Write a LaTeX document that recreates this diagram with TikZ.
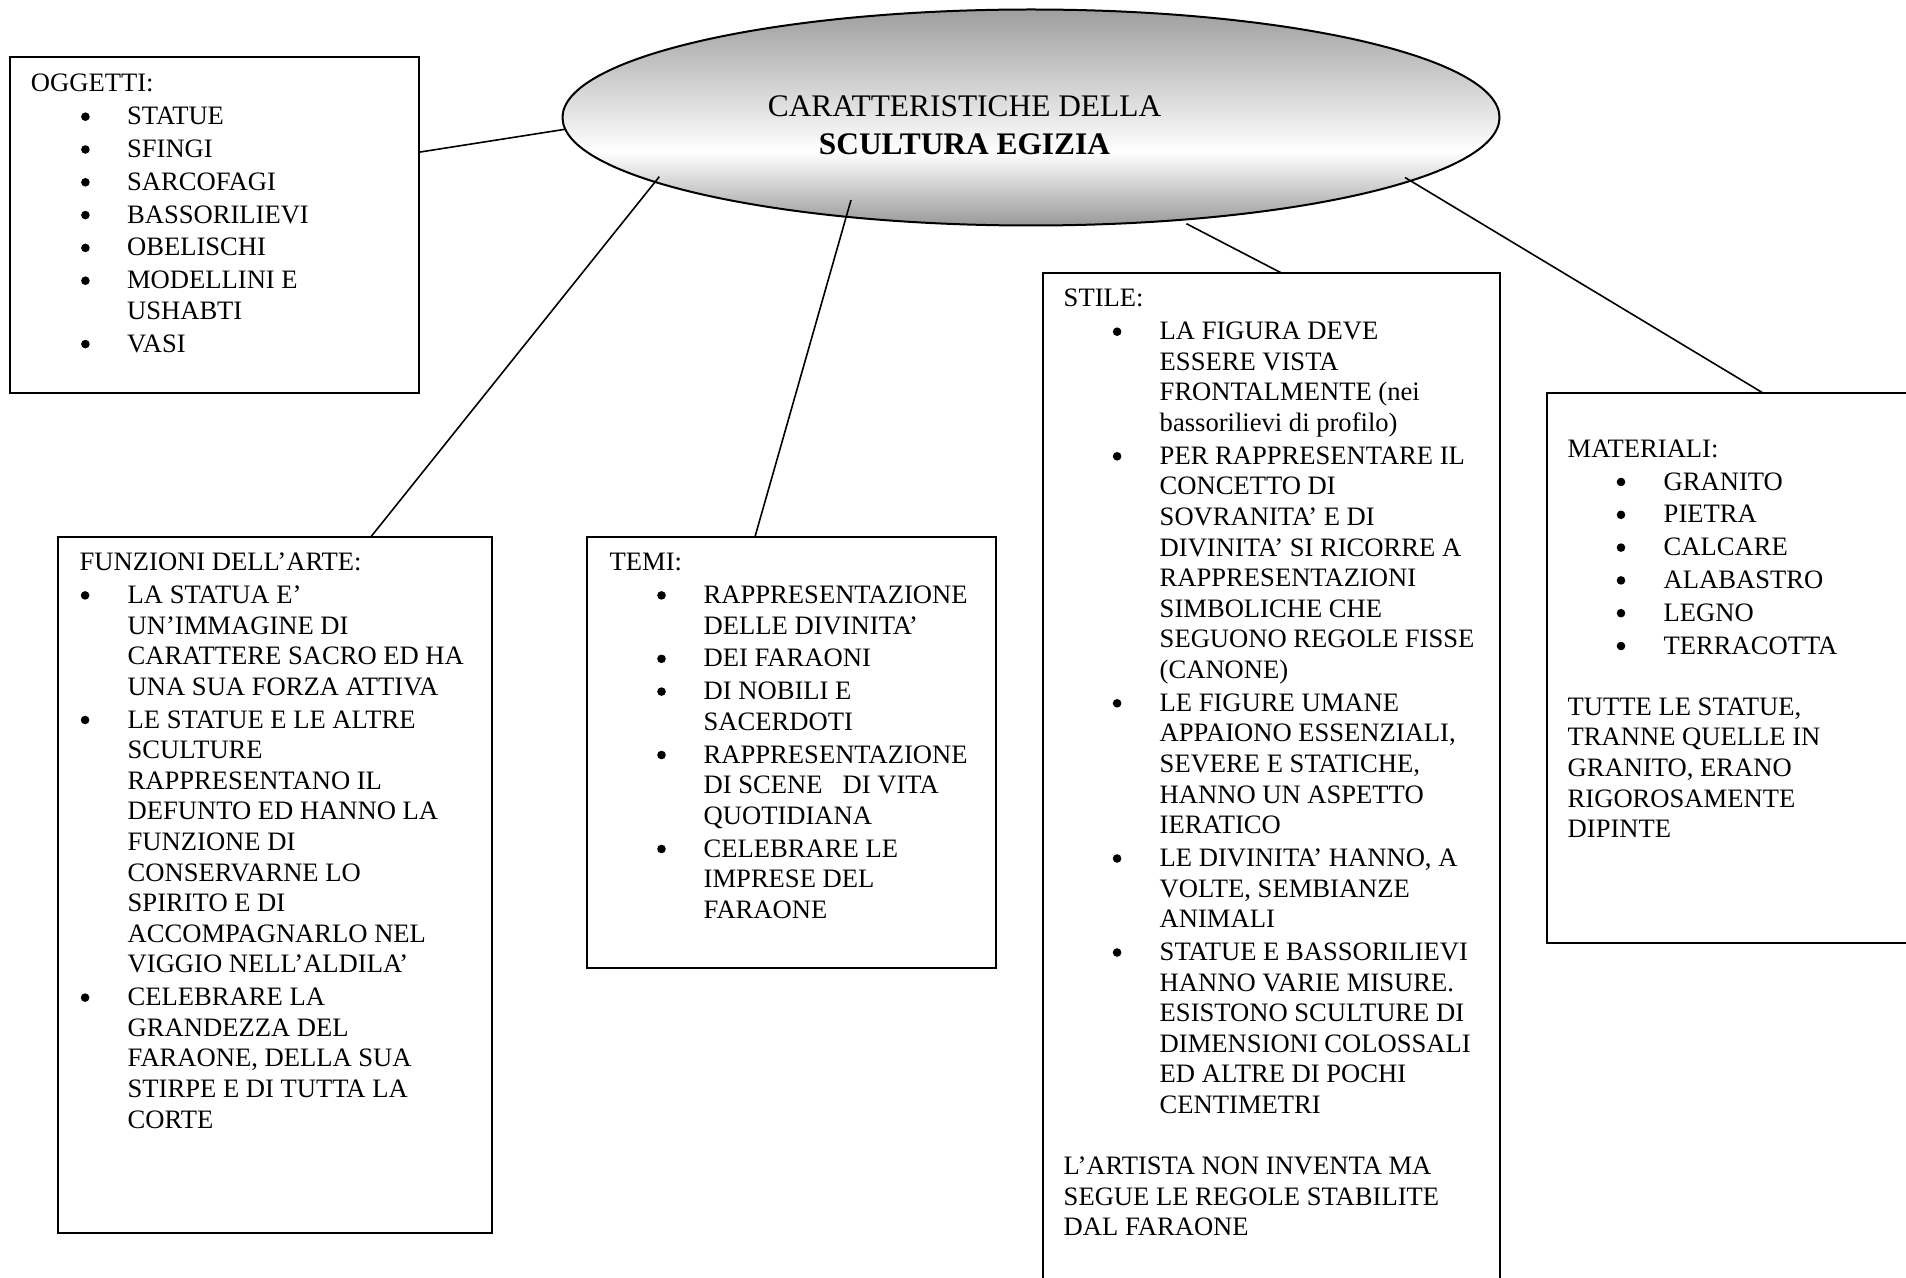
\documentclass[tikz,border=0pt]{standalone}
\usepackage{fontspec}
\setmainfont{Liberation Serif}
\usetikzlibrary{shapes.geometric,fit,calc}

% bullet lists laid out as two-column tabulars
\newlength\bulw
\newlength\bulo
\newlength\lgap
\setlength\lgap{1.1pt}
\newcommand\bdot{\begin{pgfpicture}\pgfpathcircle{\pgfpointorigin}{2.15pt}\pgfusepath{fill}\end{pgfpicture}}
\newcommand\bu{\makebox[\bulw][l]{\hspace*{\bulo}\hspace*{0.2pt}\raisebox{1.9pt}{\bdot}}}
\newcommand\hd[1]{\multicolumn{2}{@{}l@{}}{#1}}

% grey-white-grey fill of the central oval
\pgfdeclareverticalshading{ovalshade}{100bp}{%
  color(0bp)=(gray!80); color(25bp)=(gray!80); color(42bp)=(white);
  color(75bp)=(gray!76); color(100bp)=(gray!76)}

\begin{document}
\begin{tikzpicture}[x=0.5pt,y=-0.5pt,
  box/.style={draw, rectangle, line width=1.1pt, inner sep=0pt, outer sep=0pt},
  link/.style={line width=0.8pt},
  txt/.style={anchor=base west, inner sep=0pt, font=\fontsize{13.3}{15.3}\selectfont},
]

\fill[white] (0,0) rectangle (1906,1278);
\useasboundingbox (0,0) rectangle (1906,1278);

% central oval
\node[ellipse, draw, line width=1pt, shading=ovalshade, minimum width=468.5pt,
      minimum height=108pt, inner sep=0pt] (title) at (1031,117.5) {};
\node[anchor=base, inner sep=0pt, font=\fontsize{15.7}{19}\selectfont] (titletext) at (964.5,117)
  {\begin{tabular}[t]{@{}c@{}}CARATTERISTICHE DELLA\\\textbf{SCULTURA EGIZIA}\end{tabular}};

% boxes
\node[box, fit={(10,56.7) (419,393)}] (oggetti) {};
\node[box, fit={(58.3,536.7) (491.7,1233.3)}] (funzioni) {};
\node[box, fit={(586.7,536.7) (996,968.3)}] (temi) {};
\node[box, fit={(1043,273.3) (1500,1300)}] (stile) {};
\node[box, fit={(1546.7,393) (1930,943)}] (materiali) {};

% connectors
\coordinate (e-ogg) at ($(title.center)+(-466,11.8)$);
\coordinate (e-funz) at ($(title.center)+(-371.7,59.2)$);
\coordinate (e-temi) at ($(title.center)+(-180,82.5)$);
\coordinate (e-stile) at ($(title.center)+(155.4,106.2)$);
\coordinate (e-mat) at ($(title.center)+(374,60)$);
\draw[link] ($(oggetti.north east)!0.284!(oggetti.south east)$) -- (e-ogg);
\draw[link] ($(funzioni.north west)+(312.7,0)$) -- (e-funz);
\draw[link] ($(temi.north west)+(168.3,0)$) -- (e-temi);
\draw[link] ($(stile.north west)+(239,0)$) -- (e-stile);
\draw[link] ($(materiali.north west)+(216.3,0)$) -- (e-mat);

% OGGETTI
\node[txt] (oggetti-text) at (30.5,92) {\setlength\bulw{48.1pt}\setlength\bulo{24.9pt}%
\begin{tabular}[t]{@{}l@{}l@{}}
\hd{OGGETTI:}\\[\lgap]
\bu & STATUE\\[\lgap]
\bu & SFINGI\\[\lgap]
\bu & SARCOFAGI\\[\lgap]
\bu & BASSORILIEVI\\[\lgap]
\bu & OBELISCHI\\[\lgap]
\bu & MODELLINI E\\
    & USHABTI\\[\lgap]
\bu & VASI
\end{tabular}};

% FUNZIONI DELL'ARTE
\node[txt] (funzioni-text) at (79.3,570.7) {\setlength\bulw{24pt}\setlength\bulo{0.35pt}%
\begin{tabular}[t]{@{}l@{}l@{}}
\hd{FUNZIONI DELL’ARTE:}\\[\lgap]
\bu & LA STATUA E’\\
    & UN’IMMAGINE DI\\
    & CARATTERE SACRO ED HA\\
    & UNA SUA FORZA ATTIVA\\[\lgap]
\bu & LE STATUE E LE ALTRE\\
    & SCULTURE\\
    & RAPPRESENTANO IL\\
    & DEFUNTO ED HANNO LA\\
    & FUNZIONE DI\\
    & CONSERVARNE LO\\
    & SPIRITO E DI\\
    & ACCOMPAGNARLO NEL\\
    & VIGGIO NELL’ALDILA’\\[\lgap]
\bu & CELEBRARE LA\\
    & GRANDEZZA DEL\\
    & FARAONE, DELLA SUA\\
    & STIRPE E DI TUTTA LA\\
    & CORTE
\end{tabular}};

% TEMI
\node[txt] (temi-text) at (609.3,570.7) {\setlength\bulw{47pt}\setlength\bulo{23.55pt}%
\begin{tabular}[t]{@{}l@{}l@{}}
\hd{TEMI:}\\[\lgap]
\bu & RAPPRESENTAZIONE\\
    & DELLE DIVINITA’\\[\lgap]
\bu & DEI FARAONI\\[\lgap]
\bu & DI NOBILI E\\
    & SACERDOTI\\[\lgap]
\bu & RAPPRESENTAZIONE\\
    & DI SCENE\ \ \ DI VITA\\
    & QUOTIDIANA\\[\lgap]
\bu & CELEBRARE LE\\
    & IMPRESE DEL\\
    & FARAONE
\end{tabular}};

% STILE
\node[txt] (stile-text) at (1063.3,307) {\setlength\bulw{48pt}\setlength\bulo{24.35pt}%
\begin{tabular}[t]{@{}l@{}l@{}}
\hd{STILE:}\\[\lgap]
\bu & LA FIGURA DEVE\\
    & ESSERE VISTA\\
    & FRONTALMENTE (nei\\
    & bassorilievi di profilo)\\[\lgap]
\bu & PER RAPPRESENTARE IL\\
    & CONCETTO DI\\
    & SOVRANITA’ E DI\\
    & DIVINITA’ SI RICORRE A\\
    & RAPPRESENTAZIONI\\
    & SIMBOLICHE CHE\\
    & SEGUONO REGOLE FISSE\\
    & (CANONE)\\[\lgap]
\bu & LE FIGURE UMANE\\
    & APPAIONO ESSENZIALI,\\
    & SEVERE E STATICHE,\\
    & HANNO UN ASPETTO\\
    & IERATICO\\[\lgap]
\bu & LE DIVINITA’ HANNO, A\\
    & VOLTE, SEMBIANZE\\
    & ANIMALI\\[\lgap]
\bu & STATUE E BASSORILIEVI\\
    & HANNO VARIE MISURE.\\
    & ESISTONO SCULTURE DI\\
    & DIMENSIONI COLOSSALI\\
    & ED ALTRE DI POCHI\\
    & CENTIMETRI\\
    & \\
\hd{L’ARTISTA NON INVENTA MA}\\
\hd{SEGUE LE REGOLE STABILITE}\\
\hd{DAL FARAONE}
\end{tabular}};

% MATERIALI
\node[txt] (materiali-text) at (1567.3,457.3) {\setlength\bulw{48pt}\setlength\bulo{24.3pt}%
\begin{tabular}[t]{@{}l@{}l@{}}
\hd{MATERIALI:}\\[\lgap]
\bu & GRANITO\\[\lgap]
\bu & PIETRA\\[\lgap]
\bu & CALCARE\\[\lgap]
\bu & ALABASTRO\\[\lgap]
\bu & LEGNO\\[\lgap]
\bu & TERRACOTTA\\
    & \\
\hd{TUTTE LE STATUE,}\\
\hd{TRANNE QUELLE IN}\\
\hd{GRANITO, ERANO}\\
\hd{RIGOROSAMENTE}\\
\hd{DIPINTE}
\end{tabular}};

\end{tikzpicture}
\end{document}
